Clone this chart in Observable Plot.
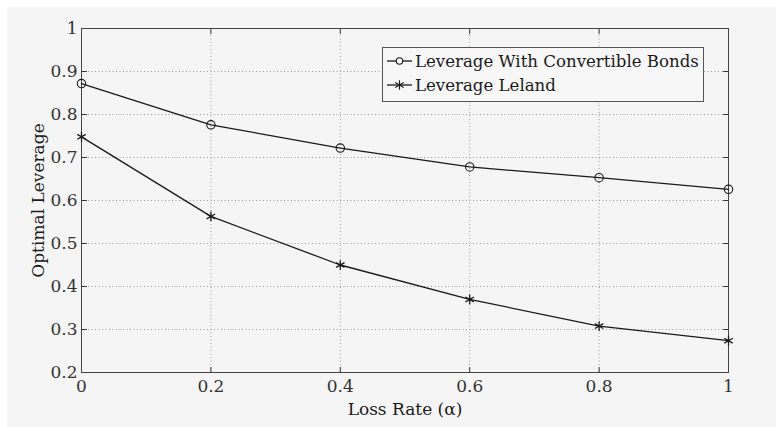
<!DOCTYPE html>
<html>
<head>
<meta charset="utf-8">
<script src="https://cdn.jsdelivr.net/npm/d3@7"></script>
<script src="https://cdn.jsdelivr.net/npm/@observablehq/plot@0.6"></script>
<style>
  html, body { margin: 0; padding: 0; background: #fff; }
  #chart svg {
    display: block;
    background:
      linear-gradient(#fff, #fff) top left / 100% 7px no-repeat,
      linear-gradient(#fff, #fff) top left / 7px 100% no-repeat,
      #f5f5f5 !important;
  }
</style>
</head>
<body>
<div id="chart"></div>
<script>
// Optimal leverage against the loss rate α
const lossRate = [0, 0.2, 0.4, 0.6, 0.8, 1];
const leverageConvertible = [0.872, 0.776, 0.722, 0.678, 0.653, 0.626];
const leverageLeland = [0.748, 0.563, 0.450, 0.370, 0.308, 0.274];
const seriesNames = ["Leverage With Convertible Bonds", "Leverage Leland"];
const xTicks = [0, 0.2, 0.4, 0.6, 0.8, 1];
const yTicks = [0.2, 0.3, 0.4, 0.5, 0.6, 0.7, 0.8, 0.9, 1];
const xLabel = "Loss Rate (α)";
const yLabel = "Optimal Leverage";

const convRows = lossRate.map((x, i) => ({x, y: leverageConvertible[i]}));
const lelandRows = lossRate.map((x, i) => ({x, y: leverageLeland[i]}));

const font = "'DejaVu Serif', 'Liberation Serif', serif";
const ink = "#1a1a1a";
const axisInk = "#333";

// short tick drawn from the anchor along the vector direction
const tickShape = {draw(ctx, l) { ctx.moveTo(0, 0); ctx.lineTo(0, -l); }};
const inward = (ticks, channel, frameAnchor, rotate) =>
  Plot.vector(ticks, {
    [channel]: d => d, frameAnchor, rotate, length: 5, anchor: "start",
    shape: tickShape, stroke: axisInk, strokeWidth: 1
  });

const chart = Plot.plot({
  width: 776,
  height: 427,
  marginLeft: 81,
  marginRight: 48,
  marginTop: 28,
  marginBottom: 55,
  style: {fontFamily: font, fontSize: "16px", color: axisInk},
  x: {domain: [0, 1]},
  y: {domain: [0.2, 1]},
  marks: [
    Plot.gridX(xTicks, {stroke: "#9a9a9a", strokeOpacity: 1, strokeDasharray: "1,2.5"}),
    Plot.gridY(yTicks, {stroke: "#9a9a9a", strokeOpacity: 1, strokeDasharray: "1,2.5"}),
    Plot.axisX(xTicks, {tickSize: 0, tickPadding: 7, tickFormat: d => String(d), label: null, fill: axisInk, fontSize: 17}),
    Plot.axisY(yTicks, {tickSize: 0, tickPadding: 4, tickFormat: d => String(d), label: null, fill: axisInk, fontSize: 17}),
    inward(xTicks, "x", "bottom", 0),
    inward(xTicks, "x", "top", 180),
    inward(yTicks, "y", "left", 90),
    inward(yTicks, "y", "right", -90),
    Plot.frame({stroke: "#444", strokeWidth: 1}),
    Plot.line(convRows, {x: "x", y: "y", stroke: ink, strokeWidth: 1.3}),
    Plot.dot(convRows, {x: "x", y: "y", r: 4.2, stroke: ink, strokeWidth: 1.1, fill: "none"}),
    Plot.line(lelandRows, {x: "x", y: "y", stroke: ink, strokeWidth: 1.3}),
    Plot.dot(lelandRows, {x: "x", y: "y", symbol: "asterisk", r: 4.6, stroke: ink, strokeWidth: 1.3}),
    Plot.text([xLabel], {frameAnchor: "bottom", dy: 37, fontSize: 17, fill: ink, textAnchor: "middle", lineAnchor: "middle"}),
    Plot.text([yLabel], {frameAnchor: "left", dx: -43, rotate: -90, fontSize: 17, fill: ink, textAnchor: "middle", lineAnchor: "middle"})
  ]
});

// legend box in the upper right of the frame
const svg = d3.select(chart);
const lg = svg.append("g")
  .attr("font-family", font).attr("font-size", 16.6).attr("text-anchor", "start");
lg.append("rect")
  .attr("x", 382.5).attr("y", 47.5).attr("width", 321).attr("height", 54)
  .attr("fill", "#f7f7f7").attr("stroke", "#555").attr("stroke-width", 1);
const rowsY = [61, 85];
seriesNames.forEach((name, i) => {
  const y = rowsY[i];
  lg.append("line").attr("x1", 387).attr("x2", 412).attr("y1", y).attr("y2", y)
    .attr("stroke", ink).attr("stroke-width", 1.3);
  lg.append("path")
    .attr("transform", `translate(399.5,${y})`)
    .attr("d", d3.symbol(i === 0 ? d3.symbolCircle : d3.symbolAsterisk, i === 0 ? Math.PI * 3.2 * 3.2 : Math.PI * 4.6 * 4.6)())
    .attr("fill", i === 0 ? "#f7f7f7" : "none").attr("stroke", ink).attr("stroke-width", 1.1);
  lg.append("text").attr("x", 415).attr("y", y + 6).attr("fill", ink).text(name);
});

document.getElementById("chart").append(chart);
</script>
</body>
</html>
